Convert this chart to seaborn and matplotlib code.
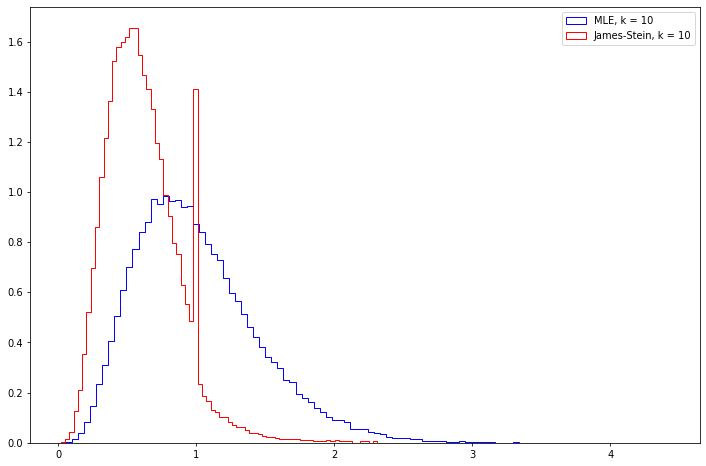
import numpy as np
import pandas as pd
import matplotlib
matplotlib.use("Agg")
import matplotlib.pyplot as plt
from matplotlib.patches import Patch
import seaborn as sns

# bin layout (100 bins each)
mle_start, mle_stop = 0.056, 4.431
js_start, js_stop = 0.018, 3.118
n_bins = 100

# density heights per bin, MLE (k = 10)
mle_heights = [
    0.002, 0.013, 0.037, 0.081, 0.145, 0.234, 0.309, 0.404, 0.504, 0.609,
    0.700, 0.771, 0.841, 0.879, 0.971, 0.951, 0.983, 0.963, 0.966, 0.940,
    0.944, 0.874, 0.840, 0.794, 0.754, 0.730, 0.656, 0.596, 0.564, 0.512,
    0.460, 0.422, 0.382, 0.342, 0.321, 0.297, 0.249, 0.241, 0.194, 0.177,
    0.162, 0.137, 0.122, 0.101, 0.092, 0.089, 0.082, 0.053, 0.053, 0.053,
    0.042, 0.040, 0.036, 0.024, 0.020, 0.020, 0.020, 0.016, 0.016, 0.008,
    0.008, 0.008, 0.008, 0.004, 0.004, 0.008, 0.004, 0.004, 0.004, 0.004,
    0.004, 0.0, 0.0, 0.0, 0.004,
] + [0.0] * 25

# density heights per bin, James-Stein (k = 10)
js_heights = [
    0.003, 0.013, 0.043, 0.126, 0.210, 0.355, 0.521, 0.696, 0.859, 1.061,
    1.214, 1.363, 1.522, 1.578, 1.599, 1.619, 1.654, 1.654, 1.547, 1.467,
    1.410, 1.330, 1.194, 1.132, 0.987, 0.903, 0.795, 0.752, 0.628, 0.555,
    0.484, 1.410, 0.235, 0.187, 0.168, 0.131, 0.123, 0.104, 0.104, 0.084,
    0.069, 0.061, 0.061, 0.049, 0.040, 0.037, 0.033, 0.027, 0.023, 0.023,
    0.019, 0.013, 0.016, 0.013, 0.013, 0.013, 0.011, 0.011, 0.011, 0.008,
    0.008, 0.008, 0.011, 0.008, 0.011, 0.007, 0.007, 0.007, 0.0, 0.0,
    0.007, 0.007, 0.0, 0.005,
] + [0.0] * 26

labels = ["MLE, k = 10", "James-Stein, k = 10"]
colors = ["blue", "red"]

dpi = 71
fig = plt.figure(figsize=(9.945, 6.565), dpi=dpi)
ax = fig.add_axes([30.3 / 706, 23.3 / 466, 670 / 706, 435.4 / 466])

series = [
    (np.linspace(mle_start, mle_stop, n_bins + 1), mle_heights),
    (np.linspace(js_start, js_stop, n_bins + 1), js_heights),
]
for (edges, heights), col in zip(series, colors):
    df = pd.DataFrame({"x": (edges[:-1] + edges[1:]) / 2, "w": heights})
    sns.histplot(data=df, x="x", weights="w", bins=edges.tolist(), stat="count",
                 element="step", fill=False, color=col, linewidth=1.0, ax=ax)

ax.set_xlim(-0.203, 4.652)
ax.set_ylim(0, 1.737)
ax.set_xlabel("")
ax.set_ylabel("")
ax.set_xticks([0, 1, 2, 3, 4])
ax.set_yticks(np.arange(0, 1.61, 0.2))
ax.tick_params(labelsize=10)

handles = [Patch(facecolor="none", edgecolor=c, linewidth=1.0) for c in colors]
ax.legend(handles, labels, loc="upper right", fontsize=10)

fig.savefig("out.png", dpi=dpi)
